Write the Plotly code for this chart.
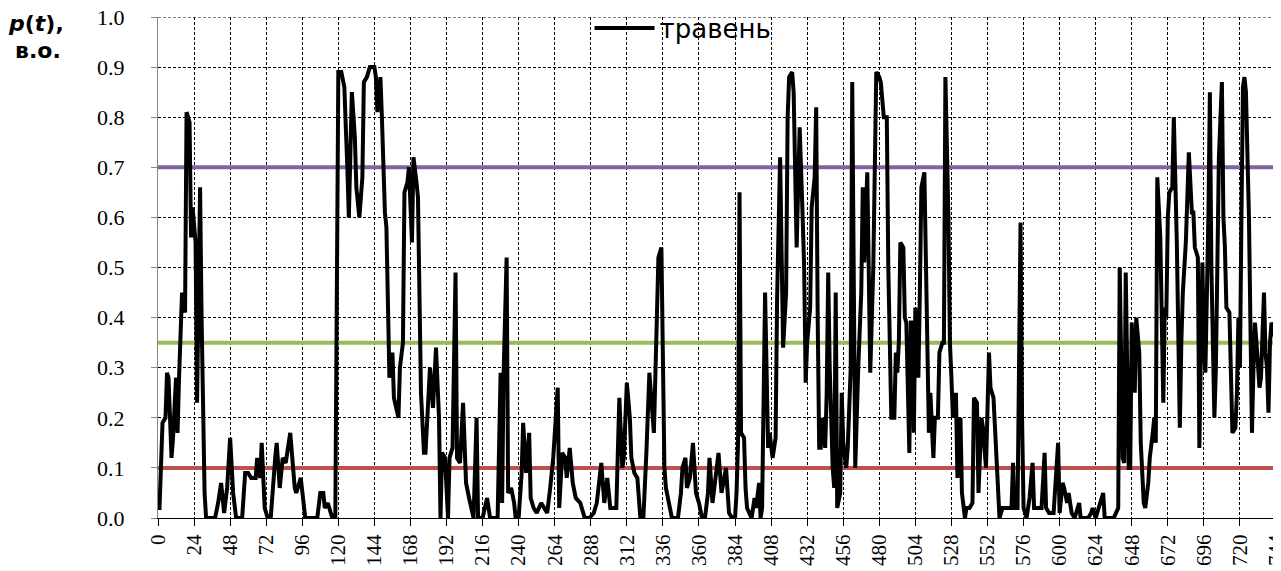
import plotly.graph_objects as go

# ---- data ----
hours = [0, 1, 3, 5, 6, 7, 9, 10, 12, 13, 14, 16, 18, 19, 21, 22, 23, 25, 26, 28, 29, 31, 32, 38, 40, 42, 44, 46, 48, 50,
         52, 56, 58, 60, 62, 65, 66, 68, 69, 71, 73, 75, 78, 79, 81, 83, 85, 88, 91, 92, 95, 96, 98, 106, 108, 110, 111, 113, 116, 118,
         119, 120, 122, 124, 126, 127, 129, 131, 132, 134, 136, 137, 139, 141, 144, 145, 146, 148, 149, 151, 152, 153, 154, 156, 157, 160, 161, 163, 164, 166,
         167, 169, 170, 172, 173, 175, 177, 178, 180, 181, 183, 185, 187, 188, 189, 191, 193, 194, 196, 198, 199, 201, 203, 204, 205, 207, 209, 210, 212, 213,
         216, 219, 221, 226, 228, 229, 230, 232, 233, 235, 237, 238, 240, 242, 243, 245, 247, 248, 250, 252, 255, 257, 259, 261, 263, 266, 267, 269, 271, 272,
         274, 276, 278, 281, 284, 287, 290, 292, 295, 297, 299, 301, 305, 307, 309, 310, 312, 314, 315, 317, 319, 321, 323, 325, 327, 330, 332, 333, 335, 336,
         337, 338, 340, 342, 346, 348, 349, 351, 352, 354, 356, 358, 360, 362, 364, 366, 367, 369, 371, 373, 375, 378, 380, 382, 384, 385, 386, 387, 388, 390,
         391, 392, 395, 397, 398, 400, 401, 402, 404, 406, 407, 409, 411, 412, 414, 416, 418, 419, 420, 422, 423, 424, 425, 426, 427, 429, 430, 431, 432, 434,
         435, 437, 438, 439, 440, 441, 442, 444, 445, 446, 447, 449, 450, 451, 452, 454, 455, 456, 458, 459, 461, 462, 463, 464, 466, 468, 469, 470, 472, 473,
         474, 476, 478, 480, 481, 483, 485, 486, 487, 488, 490, 491, 492, 493, 494, 496, 497, 498, 500, 501, 502, 503, 504, 506, 507, 508, 510, 511, 512, 513,
         514, 516, 517, 519, 520, 522, 523, 524, 526, 527, 528, 529, 531, 532, 534, 535, 537, 538, 540, 542, 543, 545, 546, 548, 549, 551, 553, 554, 556, 558,
         560, 562, 565, 568, 569, 570, 572, 574, 575, 576, 578, 580, 582, 583, 585, 586, 588, 590, 591, 593, 596, 599, 600, 602, 603, 605, 606, 608, 610, 613,
         614, 619, 621, 622, 624, 626, 629, 630, 633, 636, 639, 640, 642, 643, 644, 646, 647, 648, 650, 651, 653, 654, 656, 657, 659, 660, 662, 663, 664, 665,
         667, 668, 669, 670, 671, 672, 673, 675, 676, 678, 679, 680, 681, 682, 684, 685, 686, 688, 689, 690, 692, 693, 694, 695, 696, 697, 699, 700, 701, 702,
         703, 704, 705, 706, 708, 709, 710, 711, 713, 714, 715, 717, 718, 719, 720, 721, 722, 723, 724, 726, 727, 728, 729, 730, 731, 732, 733, 734, 736, 737,
         738, 739, 740, 741, 742, 744]

p_travень = [0.02, 0.02, 0.19, 0.2, 0.29, 0.28, 0.12, 0.16, 0.28, 0.17, 0.28, 0.45, 0.41, 0.81, 0.79, 0.56, 0.62, 0.55, 0.23, 0.66, 0.4, 0.05, 0, 0, 0.03, 0.07, 0.01, 0.06, 0.16, 0.05,
             0, 0, 0.09, 0.09, 0.08, 0.08, 0.12, 0.08, 0.15, 0.02, 0, 0, 0.12, 0.15, 0.06, 0.12, 0.11, 0.17, 0.06, 0.05, 0.08, 0.05, 0, 0, 0.05, 0.05, 0.02, 0.03, 0, 0,
             0.4, 0.89, 0.89, 0.86, 0.7, 0.6, 0.85, 0.76, 0.66, 0.6, 0.68, 0.87, 0.88, 0.9, 0.9, 0.88, 0.81, 0.88, 0.8, 0.61, 0.58, 0.38, 0.28, 0.33, 0.24, 0.2, 0.3, 0.35, 0.65, 0.67,
             0.7, 0.55, 0.72, 0.67, 0.64, 0.25, 0.13, 0.13, 0.25, 0.3, 0.22, 0.34, 0.2, 0, 0.13, 0.12, 0, 0.12, 0.14, 0.49, 0.12, 0.11, 0.23, 0.15, 0.07, 0.04, 0.01, 0, 0.2, 0,
             0, 0.04, 0, 0, 0.29, 0.03, 0.29, 0.52, 0.05, 0.06, 0.03, 0, 0, 0.09, 0.19, 0.09, 0.17, 0.04, 0.02, 0.01, 0.03, 0.02, 0.01, 0.06, 0.12, 0.26, 0.02, 0.13, 0.12, 0.08,
             0.14, 0.07, 0.04, 0.03, 0, 0, 0.01, 0.03, 0.11, 0.03, 0.08, 0.02, 0.02, 0.24, 0.1, 0.12, 0.27, 0.2, 0.12, 0.09, 0.08, 0, 0, 0.13, 0.29, 0.17, 0.46, 0.52, 0.54, 0.35,
             0.1, 0.06, 0.03, 0, 0, 0.05, 0.1, 0.12, 0.06, 0.08, 0.15, 0.05, 0.03, 0, 0, 0.05, 0.12, 0.03, 0.08, 0.13, 0.05, 0.1, 0.01, 0, 0, 0.05, 0.15, 0.65, 0.17, 0.16,
             0.06, 0.02, 0, 0.04, 0.02, 0.07, 0, 0.02, 0.45, 0.14, 0.17, 0.12, 0.16, 0.44, 0.72, 0.34, 0.45, 0.8, 0.88, 0.89, 0.85, 0.71, 0.54, 0.66, 0.78, 0.6, 0.5, 0.27, 0.35, 0.42,
             0.62, 0.68, 0.82, 0.4, 0.14, 0.14, 0.2, 0.14, 0.25, 0.49, 0.3, 0.1, 0.06, 0.45, 0.02, 0.05, 0.25, 0.15, 0.1, 0.14, 0.3, 0.87, 0.5, 0.1, 0.3, 0.45, 0.66, 0.51, 0.69, 0.5,
             0.29, 0.5, 0.89, 0.88, 0.87, 0.8, 0.8, 0.5, 0.35, 0.2, 0.2, 0.33, 0.29, 0.35, 0.55, 0.54, 0.4, 0.39, 0.13, 0.39, 0.39, 0.17, 0.42, 0.28, 0.45, 0.66, 0.69, 0.5, 0.25, 0.17,
             0.25, 0.12, 0.2, 0.2, 0.33, 0.35, 0.35, 0.88, 0.6, 0.35, 0.28, 0.2, 0.25, 0.08, 0.2, 0.05, 0, 0.02, 0.02, 0.03, 0.24, 0.23, 0.05, 0.2, 0.18, 0.1, 0.33, 0.26, 0.24, 0.1,
             0, 0.02, 0.02, 0.02, 0.11, 0.02, 0.02, 0.59, 0.2, 0.02, 0, 0.04, 0.11, 0.02, 0.02, 0.02, 0.02, 0.13, 0.02, 0.01, 0.01, 0.15, 0.01, 0.07, 0.06, 0.03, 0.05, 0.01, 0, 0.03,
             0, 0, 0.01, 0.02, 0, 0.02, 0.05, 0, 0, 0, 0.02, 0.5, 0.12, 0.11, 0.49, 0.1, 0.1, 0.39, 0.25, 0.4, 0.33, 0.15, 0.03, 0.02, 0.07, 0.12, 0.17, 0.2, 0.15, 0.68,
             0.56, 0.4, 0.23, 0.42, 0.4, 0.6, 0.65, 0.66, 0.8, 0.55, 0.35, 0.18, 0.35, 0.45, 0.55, 0.66, 0.73, 0.61, 0.61, 0.54, 0.52, 0.14, 0.4, 0.51, 0.35, 0.29, 0.6, 0.85, 0.5, 0.35,
             0.2, 0.3, 0.5, 0.72, 0.87, 0.6, 0.54, 0.42, 0.41, 0.23, 0.17, 0.18, 0.25, 0.4, 0.3, 0.6, 0.86, 0.88, 0.85, 0.6, 0.35, 0.17, 0.3, 0.39, 0.35, 0.3, 0.26, 0.28, 0.45, 0.33,
             0.3, 0.21, 0.35, 0.39, 0.38, 0.35]

threshold_levels = [0.1, 0.35, 0.7]
threshold_colors = ["#C0504D", "#9BBB59", "#8064A2"]
x_span = [0, 744]
y_span = [0, 1.0]

x_ticks = [0, 24, 48, 72, 96, 120, 144, 168, 192, 216, 240, 264, 288, 312, 336, 360,
           384, 408, 432, 456, 480, 504, 528, 552, 576, 600, 624, 648, 672, 696, 720, 744]
y_ticks = [0.0, 0.1, 0.2, 0.3, 0.4, 0.5, 0.6, 0.7, 0.8, 0.9, 1.0]

fig = go.Figure()
for lvl, col in zip(threshold_levels, threshold_colors):
    fig.add_trace(go.Scatter(x=x_span, y=[lvl, lvl], mode="lines",
                             line=dict(color=col, width=4), showlegend=False, hoverinfo="skip"))

fig.add_trace(go.Scatter(x=hours, y=p_travень, mode="lines", name="травень",
                         line=dict(color="black", width=4)))

# grid lines at the outer edges of the plot area (top and right)
grid_style = dict(color="black", width=1, dash="3px,2px")
fig.add_shape(type="line", xref="x", yref="y", x0=x_span[0], x1=x_span[1], y0=y_span[1], y1=y_span[1],
              line=grid_style, layer="below")
fig.add_shape(type="line", xref="x", yref="y", x0=x_span[1], x1=x_span[1], y0=y_span[0], y1=y_span[1],
              line=grid_style, layer="below")

# page body has an 8px margin, so the figure is 8px smaller and margins shifted
fig.update_layout(
    width=1273, height=563,
    margin=dict(l=150, r=5, t=9, b=53, autoexpand=False),
    plot_bgcolor="white", paper_bgcolor="white",
    showlegend=True,
    legend=dict(x=0.386, y=1.025, xanchor="left", yanchor="top",
                bgcolor="rgba(0,0,0,0)", itemwidth=60,
                font=dict(family="DejaVu Sans", size=26, color="black")),
    xaxis=dict(range=x_span, tickmode="array", tickvals=x_ticks,
               ticktext=[str(t) for t in x_ticks], tickangle=-90,
               tickfont=dict(family="Liberation Serif", size=21, color="black"),
               showline=True, linecolor="black", linewidth=1,
               ticks="outside", ticklen=7, tickcolor="black",
               showgrid=True, gridcolor="black", gridwidth=1, griddash="3px,2px",
               zeroline=False, automargin=False, ticklabeloverflow="allow"),
    yaxis=dict(range=y_span, tickmode="array", tickvals=y_ticks,
               ticktext=[f"{v:.1f}" for v in y_ticks],
               tickfont=dict(family="Liberation Serif", size=22, color="black"),
               showline=True, linecolor="#868686", linewidth=1,
               ticks="outside", ticklen=6, tickcolor="#868686",
               ticklabelstandoff=22, ticklabeloverflow="allow",
               showgrid=True, gridcolor="black", gridwidth=1, griddash="3px,2px",
               zeroline=False, automargin=False),
)

fig.add_annotation(xref="paper", yref="paper", x=-0.109, y=0.988, xanchor="center", yanchor="middle",
                   text="<b><i>p</i>(<i>t</i>),</b>", showarrow=False,
                   font=dict(family="DejaVu Sans", size=22, color="black"))
fig.add_annotation(xref="paper", yref="paper", x=-0.107, y=0.934, xanchor="center", yanchor="middle",
                   text="<b>в.о.</b>", showarrow=False,
                   font=dict(family="DejaVu Sans", size=22, color="black"))

fig.write_html("out.html")
